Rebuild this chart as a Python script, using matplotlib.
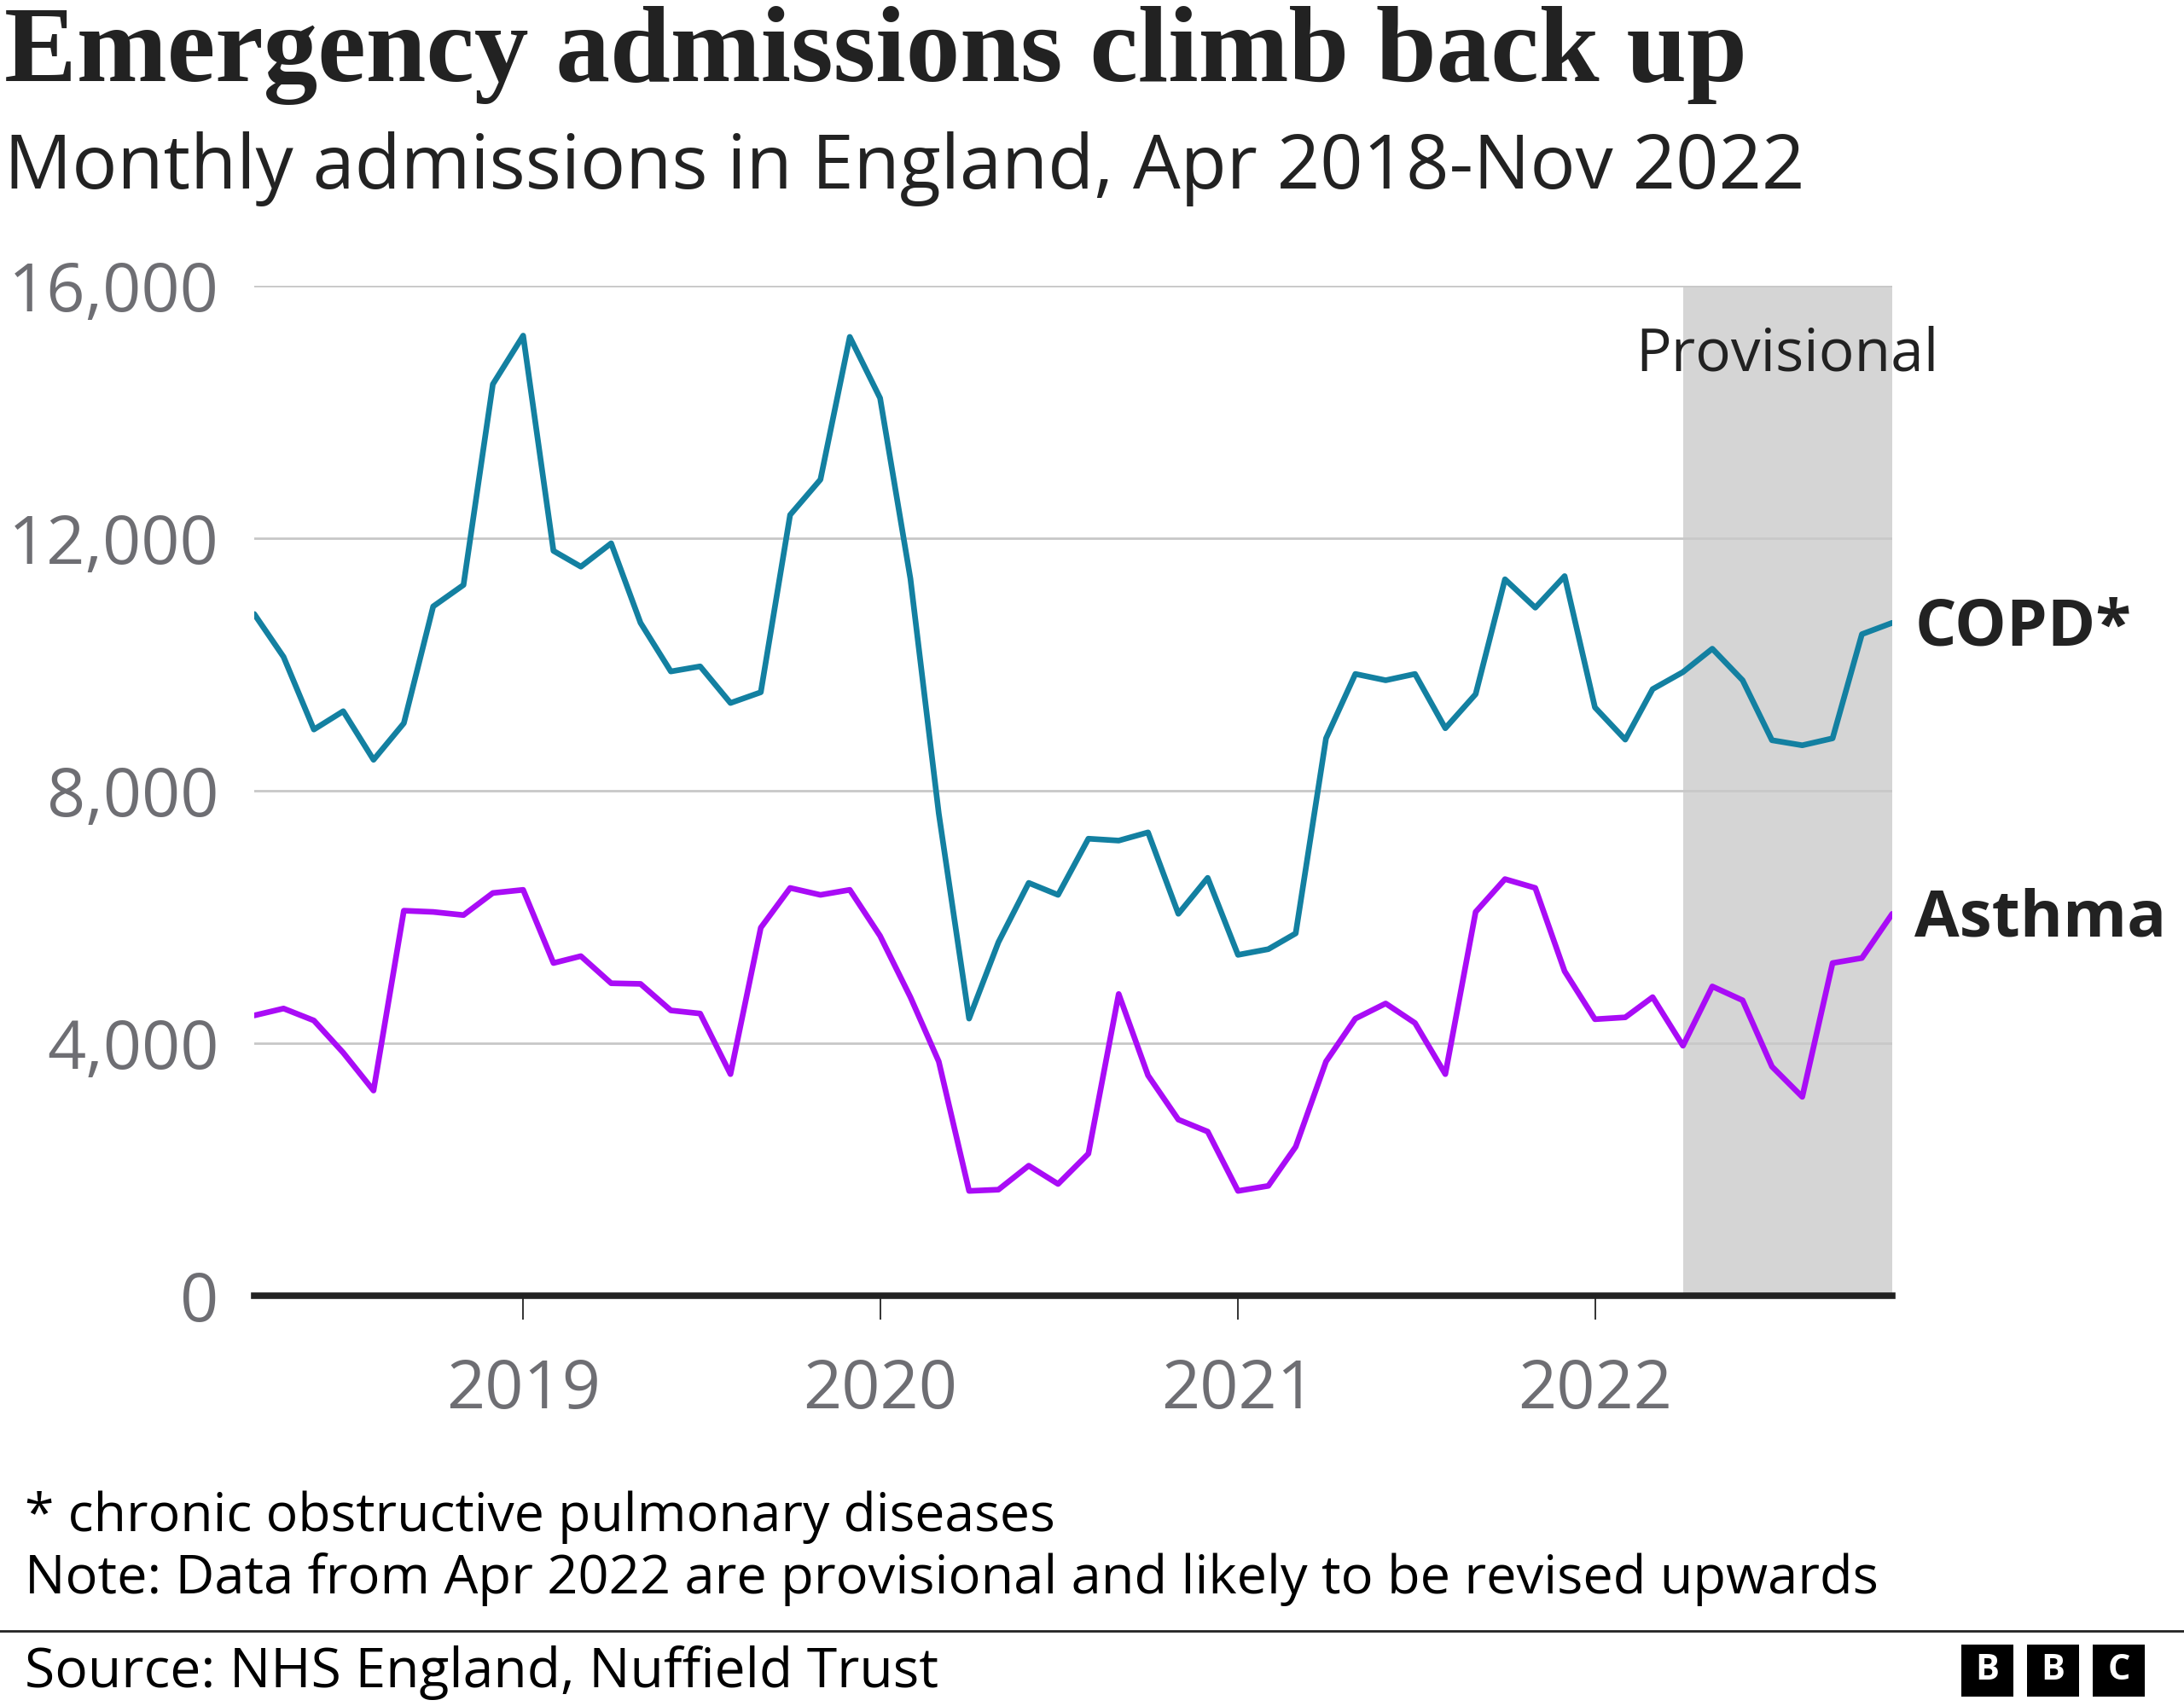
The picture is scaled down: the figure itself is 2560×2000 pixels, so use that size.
import matplotlib
matplotlib.use("Agg")
import matplotlib.pyplot as plt
from matplotlib.patches import Rectangle
import pandas as pd

# ---------------- data ----------------
start_month = "2018-04-01"
provisional_from = "2022-04-01"

copd = [10800, 10120, 8970, 9260, 8490, 9070, 10920, 11260, 14440,
        15210, 11800, 11550, 11920, 10660, 9890, 9970, 9390, 9560, 12370, 12930, 15190,
        14220, 11360, 7640, 4390, 5600, 6540, 6350, 7240, 7210, 7340, 6050, 6620,
        5400, 5490, 5740, 8830, 9850, 9750, 9850, 8990, 9530, 11350, 10900, 11400,
        9320, 8810, 9610, 9880, 10250, 9750, 8800, 8720, 8830, 10480, 10660]

asthma = [4440, 4550, 4360, 3850, 3250, 6100, 6080, 6030, 6380,
          6430, 5270, 5380, 4950, 4940, 4520, 4470, 3510, 5830, 6460, 6350, 6430,
          5700, 4730, 3710, 1660, 1680, 2060, 1770, 2250, 4780, 3490, 2790, 2600,
          1660, 1740, 2360, 3710, 4390, 4630, 4320, 3510, 6080, 6600, 6460, 5140,
          4380, 4410, 4730, 3960, 4900, 4680, 3630, 3150, 5270, 5350, 6050]

y_ticks = [0, 4000, 8000, 12000, 16000]
y_tick_labels = ["0", "4,000", "8,000", "12,000", "16,000"]
year_ticks = ["2019-01-01", "2020-01-01", "2021-01-01", "2022-01-01"]
year_labels = ["2019", "2020", "2021", "2022"]

title = "Emergency admissions climb back up"
subtitle = "Monthly admissions in England, Apr 2018-Nov 2022"
note1 = "* chronic obstructive pulmonary diseases"
note2 = "Note: Data from Apr 2022 are provisional and likely to be revised upwards"
source = "Source: NHS England, Nuffield Trust"

months = pd.date_range(start_month, periods=len(copd), freq="MS")

# ---------------- style ----------------
W, H = 2560, 2000
DPI = 100
SANS = ["Open Sans", "DejaVu Sans"]
COPD_C = "#1380a1"
ASTHMA_C = "#a90cf6"
GRID_C = "#c8c8c8"
TICK_C = "#6e6e73"
DARK = "#222222"
SHADE_C = "#d5d5d5"

plt.rcParams["font.family"] = SANS

fig = plt.figure(figsize=(W / DPI, H / DPI), dpi=DPI, facecolor="white")


def fx(px):
    return px / W


def fy(py):
    return 1 - py / H


ax = fig.add_axes([fx(298), fy(1519), fx(2218 - 298), (1519 - 335) / H])
ax.set_facecolor("white")

ax.axvspan(pd.Timestamp(provisional_from), months[-1], color=SHADE_C, zorder=0, lw=0)

ax.plot(months, copd, color=COPD_C, lw=4.8, zorder=3,
        solid_joinstyle="round", solid_capstyle="round")
ax.plot(months, asthma, color=ASTHMA_C, lw=4.8, zorder=3,
        solid_joinstyle="round", solid_capstyle="round")

ax.set_xlim(months[0], months[-1])
ax.set_ylim(0, 16000)

ax.set_yticks(y_ticks)
ax.set_yticklabels(y_tick_labels)
ax.yaxis.grid(True, color=GRID_C, lw=2.0, zorder=1)
ax.set_axisbelow(True)
ax.tick_params(axis="y", length=0, pad=30, labelsize=57, labelcolor=TICK_C)

ax.set_xticks([pd.Timestamp(t) for t in year_ticks])
ax.set_xticklabels(year_labels)
ax.tick_params(axis="x", direction="out", length=20, width=1.4, color="#333333",
               pad=32, labelsize=57, labelcolor=TICK_C)

for s in ["top", "right", "left"]:
    ax.spines[s].set_visible(False)
ax.spines["bottom"].set_color(DARK)
ax.spines["bottom"].set_linewidth(5.5)
ax.spines["bottom"].set_zorder(4)

# Provisional label
mid = pd.Timestamp(provisional_from) + (months[-1] - pd.Timestamp(provisional_from)) / 2
ax.text(mid, 14650, "Provisional", ha="center", va="baseline", fontsize=50,
        color=DARK, zorder=5)

# Series labels
ax.annotate("COPD*", xy=(months[-1], copd[-1]), xytext=(19, -19),
            textcoords="offset points", ha="left", va="baseline",
            fontsize=55, fontweight="bold", color=DARK, annotation_clip=False)
ax.annotate("Asthma", xy=(months[-1], asthma[-1]), xytext=(19, -19),
            textcoords="offset points", ha="left", va="baseline",
            fontsize=55, fontweight="bold", color=DARK, annotation_clip=False)

# Titles and notes
t_title = fig.text(fx(5), fy(95), title, ha="left", va="baseline",
                   fontsize=92, fontweight="bold", color=DARK,
                   family=["Liberation Serif", "DejaVu Serif"])
t_sub = fig.text(fx(5), fy(221), subtitle, ha="left", va="baseline",
                 fontsize=60, color=DARK)
t_n1 = fig.text(fx(29), fy(1795), note1, ha="left", va="baseline",
                fontsize=42, color="black")
t_n2 = fig.text(fx(29), fy(1868), note2, ha="left", va="baseline",
                fontsize=42, color="black")
t_src = fig.text(fx(29), fy(1978), source, ha="left", va="baseline",
                 fontsize=42, color="black")

# horizontal rule
fig.add_artist(plt.Line2D([0, 1], [fy(1912), fy(1912)], color=DARK, lw=2.0,
                          transform=fig.transFigure))

# BBC logo
for i, letter in enumerate("BBC"):
    x0 = 2299 + i * 77
    fig.add_artist(Rectangle((fx(x0), fy(1989)), fx(61), 61 / H,
                             transform=fig.transFigure, color="black", lw=0))
    fig.text(fx(x0 + 30.5), fy(1958.5), letter, ha="center", va="center",
             fontsize=30, fontweight="bold", color="white")

# fit text widths to reference
fig.canvas.draw()
r = fig.canvas.get_renderer()
for t, target in [(t_title, 2041), (t_sub, 2110), (t_n1, 1207), (t_n2, 2176), (t_src, 1070)]:
    w = t.get_window_extent(r).width
    t.set_fontsize(t.get_fontsize() * target / w)

fig.savefig("out.png", dpi=DPI, facecolor="white")
